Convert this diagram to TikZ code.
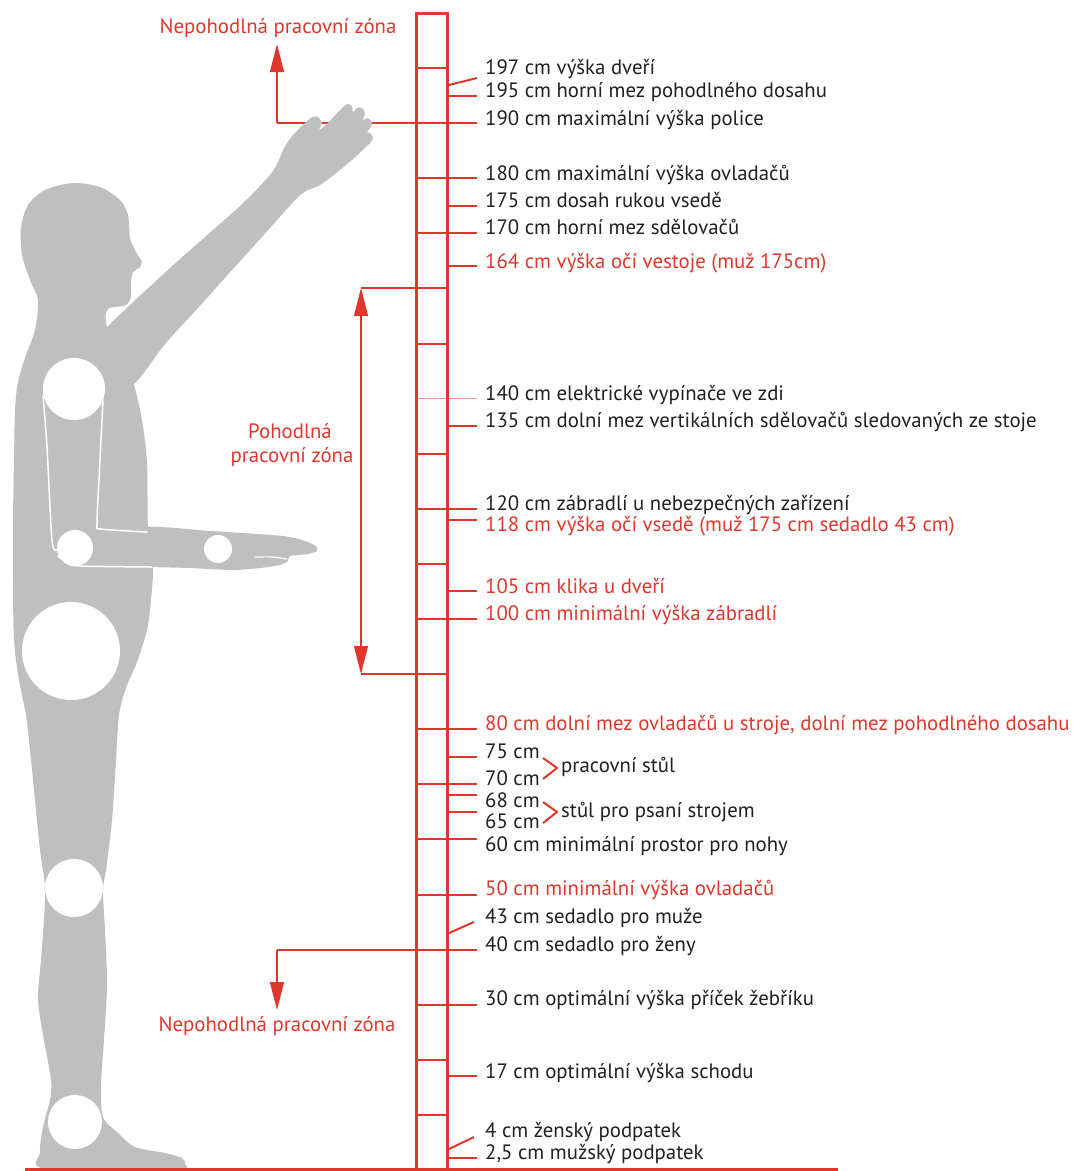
\documentclass[tikz,border=0pt]{standalone}
\usepackage{fontspec}
\setmainfont{PT Sans}
\usetikzlibrary{arrows.meta}
\definecolor{zred}{RGB}{224,55,45}
\definecolor{zpink}{RGB}{238,150,144}
\definecolor{zgray}{RGB}{191,191,191}
\definecolor{ztext}{RGB}{35,31,32}
\begin{document}
\begin{tikzpicture}[x=1pt,y=-1pt,
  lbl/.style={anchor=base west, inner sep=0pt, font=\fontsize{20.8}{24}\selectfont},
  zone/.style={anchor=center, inner sep=0pt, font=\fontsize{20.8}{24}\selectfont, text=zred},
  leader/.style={draw=zred, line width=2pt},
  rail/.style={draw=zred, line width=3pt, line join=miter},
  zoneline/.style={draw=zred, line width=1.5pt},
  tip/.style={-{Triangle[length=28pt,width=14pt]}},
  twotips/.style={{Triangle[length=28pt,width=14pt]}-{Triangle[length=28pt,width=14pt]}},
  joint/.style={fill=white},
  seam/.style={draw=white, line width=1.5pt, line cap=round}]
\useasboundingbox (0,0) rectangle (1085,1171);

% ---- zone markers (behind the figure) ----
\coordinate (hiA) at (277,123);
\coordinate (hiB) at (277,44);
\coordinate (hiR) at (477,123);
\coordinate (loA) at (277,950);
\coordinate (loB) at (277,1010);
\coordinate (loR) at (477,950);
\draw[zoneline, line width=2pt] (hiR) -- (hiA);
\draw[zoneline, tip] (hiA) -- (hiB);
\draw[zoneline, line width=2pt] (loR) -- (loA);
\draw[zoneline, tip] (loA) -- (loB);
\coordinate (okT) at (361,288);
\coordinate (okB) at (361,674);
\draw[zoneline] (okT) -- (447,288);
\draw[zoneline] (okB) -- (447,674);
\draw[zoneline, line width=1.2pt, twotips] (okT) -- (okB);

\node[zone] (ztop) at (278,28) {Nepohodlná pracovní zóna};
\node[zone] (zbot) at (277,1026) {Nepohodlná pracovní zóna};
\node[zone] (zok1) at (290,431) {Pohodlná};
\node[zone] (zok2) at (292,457) {pracovní zóna};

% ---- human figure ----
% body, head and legs
\fill[zgray] plot[smooth cycle, tension=0.5] coordinates {
 (73,183) (100,187) (120,200) (128,215) (130,238) (136,252) (142,262)
 (139,268) (133,272) (131,282) (131,296) (126,305) (108,309) (106,322)
 (112,345) (126,365) (134,385) (142,420) (147,463) (148,530) (153,567)
 (151,600) (147,630) (137,662) (126,688) (119,715) (116,760) (112,820)
 (106,870) (103,890) (105,930) (107,985) (104,1040) (101,1085) (103,1117)
 (118,1133) (135,1147) (165,1153) (182,1158) (185,1164) (176,1169)
 (46,1169) (40,1152) (43,1127) (50,1100) (51,1080) (44,1040) (38,1000)
 (41,960) (44,920) (45,887) (40,850) (35,800) (30,750) (26,715) (19,680)
 (14,640) (13,580) (13,520) (14,460) (15,410) (18,382) (26,355) (35,330)
 (38,300) (30,280) (22,255) (21,228) (28,205) (45,190)};
% raised arm with open hand
\fill[zgray] plot[smooth cycle, tension=0.4] coordinates {
 (95,345) (106,328) (170,268) (240,206) (270,175) (279,160) (284,148)
 (293,135) (304,124) (312,117) (318,117) (322,123) (319,130) (328,123)
 (340,110) (347,104) (352,106) (353,112) (357,108) (362,108) (365,113)
 (363,120) (368,118) (372,122) (371,127) (367,132) (370,133) (373,137)
 (370,143) (352,160) (335,174) (320,185) (306,191) (297,198) (286,210)
 (262,237) (232,270) (198,308) (165,344) (138,380) (115,395)};
% forearm held forward
\fill[zgray] plot[smooth cycle, tension=0.4] coordinates {
 (140,528) (210,531) (283,536) (305,541) (316,546) (317,551) (308,554)
 (290,556) (288,561) (280,565) (260,568) (233,570) (190,568) (150,567)
 (140,566)};
% seams of the bent arm
\draw[seam] plot[smooth] coordinates {(43,395) (47,447) (52,540) (57,550)};
\draw[seam] plot[smooth, tension=0.4] coordinates {(103,400) (100,460) (97,523) (101,529) (147,532)};
\draw[seam] plot[smooth] coordinates {(58,556) (67,563) (80,566) (152,567)};
\draw[seam, line width=1.2pt] plot[smooth] coordinates {(255,557) (272,557) (287,559)};
% joints
\fill[joint] (74,389) circle[radius=31];
\fill[joint] (75,548) circle[radius=18];
\fill[joint] (218,549) circle[radius=14];
\fill[joint] (71,651) circle[radius=49];
\fill[joint] (74,888) circle[radius=29];
\fill[joint] (75,1122) circle[radius=27];

% ---- measuring rod ----
\foreach \h in {10,20,...,130,150,160,...,200}
  \draw[leader] (416,{1170-5.51*\h}) -- (447,{1170-5.51*\h});
\draw[draw=zpink, line width=1.2pt] (416,{1170-5.51*140}) -- (477,{1170-5.51*140});
\draw[rail] (416,1170) -- (416,13) -- (447,13) -- (447,1170);
\draw[rail] (25,1169) -- (838,1169);

% leader lines
\foreach \h in {195,180,175,170,164,135,120,118,105,100,80,75,70,68,65,60,50,30,17}
  \draw[leader] (447,{1170-5.51*\h}) -- (477,{1170-5.51*\h});
\draw[leader] (447,1158) -- (477,1158);
\draw[leader] (449,85) -- (477,78);
\draw[leader] (449,933) -- (474,922);
\draw[leader] (449,1149) -- (474,1137);

% labels
\foreach \n/\y/\col/\t in {
 197/74/ztext/{197 cm výška dveří},
 195/97/ztext/{195 cm horní mez pohodlného dosahu},
 190/125/ztext/{190 cm maximální výška police},
 180/180/ztext/{180 cm maximální výška ovladačů},
 175/207/ztext/{175 cm dosah rukou vsedě},
 170/234/ztext/{170 cm horní mez sdělovačů},
 164/268/zred/{164 cm výška očí vestoje (muž 175cm)},
 140/400/ztext/{140 cm elektrické vypínače ve zdi},
 135/427/ztext/{135 cm dolní mez vertikálních sdělovačů sledovaných ze stoje},
 120/510/ztext/{120 cm zábradlí u nebezpečných zařízení},
 118/531/zred/{118 cm výška očí vsedě (muž 175 cm sedadlo 43 cm)},
 105/593/zred/{105 cm klika u dveří},
 100/620/zred/{100 cm minimální výška zábradlí},
 80/730/zred/{80 cm dolní mez ovladačů u stroje, dolní mez pohodlného dosahu},
 75/758/ztext/{75 cm},
 70/785/ztext/{70 cm},
 68/807/ztext/{68 cm},
 65/828/ztext/{65 cm},
 60/851/ztext/{60 cm minimální prostor pro nohy},
 50/895/zred/{50 cm minimální výška ovladačů},
 43/923/ztext/{43 cm sedadlo pro muže},
 40/951/ztext/{40 cm sedadlo pro ženy},
 30/1005/ztext/{30 cm optimální výška příček žebříku},
 17/1078/ztext/{17 cm optimální výška schodu},
 4/1137/ztext/{4 cm ženský podpatek},
 25/1159/ztext/{2,5 cm mužský podpatek}}
  \node[lbl, text=\col] (lab\n) at (485,\y) {\t};

% brackets for the desk heights
\draw[leader] (543,758) -- (557,768) -- (543,779);
\draw[leader] (543,802) -- (557,812) -- (543,823);
\node[lbl, text=ztext] (desk) at (561,772) {pracovní stůl};
\node[lbl, text=ztext] (typedesk) at (561,817) {stůl pro psaní strojem};
\end{tikzpicture}
\end{document}
